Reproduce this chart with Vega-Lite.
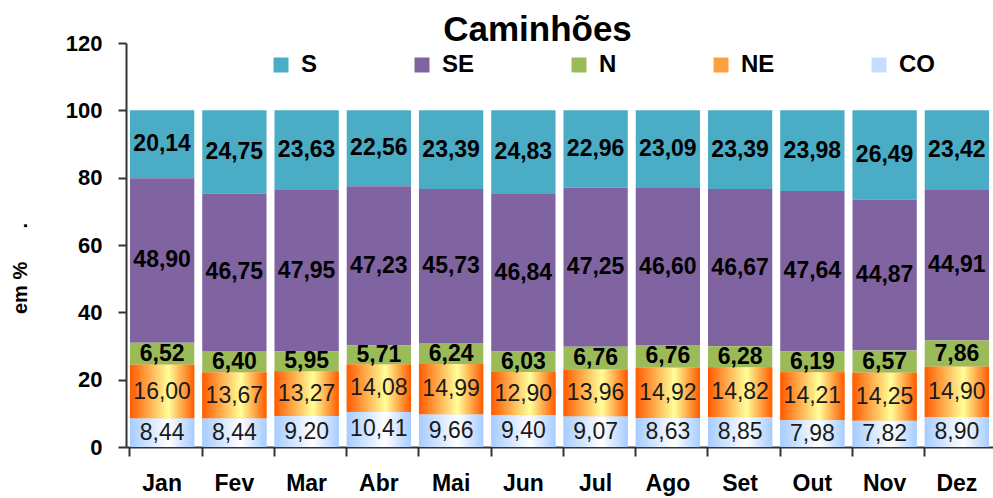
{
  "$schema": "https://vega.github.io/schema/vega-lite/v6.json",
  "width": 867,
  "height": 404,
  "autosize": {"type": "none"},
  "padding": {"left": 126, "top": 43, "right": 0, "bottom": 51},
  "background": "white",
  "title": {"text": "Caminhões", "fontSize": 35, "fontWeight": "bold", "font": "Liberation Sans", "color": "#000000", "anchor": "middle", "frame": "group", "dx": -22, "dy": 48, "baseline": "alphabetic", "offset": 4},
  "config": {
    "view": {"stroke": null},
    "locale": {"number": {"decimal": ",", "thousands": ".", "grouping": [3], "currency": ["R$", ""]}},
    "font": "Liberation Sans"
  },
  "data": {"values": [
    {"mes": "Jan", "regiao": "S", "valor": 20.14}, {"mes": "Jan", "regiao": "SE", "valor": 48.90}, {"mes": "Jan", "regiao": "N", "valor": 6.52}, {"mes": "Jan", "regiao": "NE", "valor": 16.00}, {"mes": "Jan", "regiao": "CO", "valor": 8.44},
    {"mes": "Fev", "regiao": "S", "valor": 24.75}, {"mes": "Fev", "regiao": "SE", "valor": 46.75}, {"mes": "Fev", "regiao": "N", "valor": 6.40}, {"mes": "Fev", "regiao": "NE", "valor": 13.67}, {"mes": "Fev", "regiao": "CO", "valor": 8.44},
    {"mes": "Mar", "regiao": "S", "valor": 23.63}, {"mes": "Mar", "regiao": "SE", "valor": 47.95}, {"mes": "Mar", "regiao": "N", "valor": 5.95}, {"mes": "Mar", "regiao": "NE", "valor": 13.27}, {"mes": "Mar", "regiao": "CO", "valor": 9.20},
    {"mes": "Abr", "regiao": "S", "valor": 22.56}, {"mes": "Abr", "regiao": "SE", "valor": 47.23}, {"mes": "Abr", "regiao": "N", "valor": 5.71}, {"mes": "Abr", "regiao": "NE", "valor": 14.08}, {"mes": "Abr", "regiao": "CO", "valor": 10.41},
    {"mes": "Mai", "regiao": "S", "valor": 23.39}, {"mes": "Mai", "regiao": "SE", "valor": 45.73}, {"mes": "Mai", "regiao": "N", "valor": 6.24}, {"mes": "Mai", "regiao": "NE", "valor": 14.99}, {"mes": "Mai", "regiao": "CO", "valor": 9.66},
    {"mes": "Jun", "regiao": "S", "valor": 24.83}, {"mes": "Jun", "regiao": "SE", "valor": 46.84}, {"mes": "Jun", "regiao": "N", "valor": 6.03}, {"mes": "Jun", "regiao": "NE", "valor": 12.90}, {"mes": "Jun", "regiao": "CO", "valor": 9.40},
    {"mes": "Jul", "regiao": "S", "valor": 22.96}, {"mes": "Jul", "regiao": "SE", "valor": 47.25}, {"mes": "Jul", "regiao": "N", "valor": 6.76}, {"mes": "Jul", "regiao": "NE", "valor": 13.96}, {"mes": "Jul", "regiao": "CO", "valor": 9.07},
    {"mes": "Ago", "regiao": "S", "valor": 23.09}, {"mes": "Ago", "regiao": "SE", "valor": 46.60}, {"mes": "Ago", "regiao": "N", "valor": 6.76}, {"mes": "Ago", "regiao": "NE", "valor": 14.92}, {"mes": "Ago", "regiao": "CO", "valor": 8.63},
    {"mes": "Set", "regiao": "S", "valor": 23.39}, {"mes": "Set", "regiao": "SE", "valor": 46.67}, {"mes": "Set", "regiao": "N", "valor": 6.28}, {"mes": "Set", "regiao": "NE", "valor": 14.82}, {"mes": "Set", "regiao": "CO", "valor": 8.85},
    {"mes": "Out", "regiao": "S", "valor": 23.98}, {"mes": "Out", "regiao": "SE", "valor": 47.64}, {"mes": "Out", "regiao": "N", "valor": 6.19}, {"mes": "Out", "regiao": "NE", "valor": 14.21}, {"mes": "Out", "regiao": "CO", "valor": 7.98},
    {"mes": "Nov", "regiao": "S", "valor": 26.49}, {"mes": "Nov", "regiao": "SE", "valor": 44.87}, {"mes": "Nov", "regiao": "N", "valor": 6.57}, {"mes": "Nov", "regiao": "NE", "valor": 14.25}, {"mes": "Nov", "regiao": "CO", "valor": 7.82},
    {"mes": "Dez", "regiao": "S", "valor": 23.42}, {"mes": "Dez", "regiao": "SE", "valor": 44.91}, {"mes": "Dez", "regiao": "N", "valor": 7.86}, {"mes": "Dez", "regiao": "NE", "valor": 14.90}, {"mes": "Dez", "regiao": "CO", "valor": 8.90}
  ]},
  "transform": [
    {"calculate": "indexof(['CO','NE','N','SE','S'], datum.regiao)", "as": "ord"},
    {"stack": "valor", "groupby": ["mes"], "sort": [{"field": "ord", "order": "ascending"}], "as": ["y0", "y1"]},
    {"calculate": "(datum.y0 + datum.y1) / 2", "as": "ymid"}
  ],
  "encoding": {
    "x": {
      "field": "mes", "type": "nominal",
      "sort": ["Jan", "Fev", "Mar", "Abr", "Mai", "Jun", "Jul", "Ago", "Set", "Out", "Nov", "Dez"],
      "scale": {"paddingInner": 0.11, "paddingOuter": 0.055},
      "axis": {"title": null, "labelAngle": 0, "labelFontSize": 23, "labelFontWeight": "bold", "labelColor": "#000000", "labelPadding": 16, "tickSize": 9, "tickColor": "#333333", "tickWidth": 2, "domainColor": "#333333", "domainWidth": 2, "bandPosition": 0, "grid": false}
    }
  },
  "layer": [
    {
      "mark": {"type": "bar"},
      "encoding": {
        "y": {"field": "y0", "type": "quantitative", "scale": {"domain": [0, 120], "nice": false},
          "axis": {"title": "em %\u00a0\u00a0\u00a0\u00a0\u00a0\u00a0.", "titleFontSize": 20, "titleFontWeight": "bold", "titleColor": "#000000", "titleAngle": 270, "titleX": -106, "titleY": 225, "titleAlign": "center", "titleBaseline": "middle",
            "values": [0, 20, 40, 60, 80, 100, 120], "labelFontSize": 22, "labelFontWeight": "bold", "labelColor": "#000000", "labelPadding": 16, "tickSize": 8, "tickColor": "#333333", "tickWidth": 2, "domainColor": "#333333", "domainWidth": 2, "grid": false}},
        "y2": {"field": "y1"},
        "color": {
          "field": "regiao", "type": "nominal",
          "scale": {"domain": ["S", "SE", "N", "NE", "CO"], "range": ["#4BACC6", "#8064A2", "#9BBB59", "#FFA040", "#C4DEFF"]},
          "legend": {"title": null, "orient": "none", "direction": "horizontal", "legendX": 143, "legendY": 10, "columns": 5, "columnPadding": 92, "symbolType": "square", "symbolSize": 225, "symbolStrokeWidth": 0, "labelFontSize": 24, "labelFontWeight": "bold", "labelColor": "#000000", "labelOffset": 8}
        }
      }
    },
    {
      "transform": [{"filter": "datum.regiao == 'NE'"}],
      "mark": {"type": "bar", "color": {"gradient": "linear", "x1": 0, "y1": 0, "x2": 1, "y2": 0, "stops": [{"offset": 0, "color": "#FF5A00"}, {"offset": 0.6, "color": "#FFFF99"}, {"offset": 1, "color": "#FF5A00"}]}},
      "encoding": {"y": {"field": "y0", "type": "quantitative"}, "y2": {"field": "y1"}}
    },
    {
      "transform": [{"filter": "datum.regiao == 'CO'"}],
      "mark": {"type": "bar", "color": {"gradient": "linear", "x1": 0, "y1": 0, "x2": 1, "y2": 0, "stops": [{"offset": 0, "color": "#A6CCFF"}, {"offset": 0.6, "color": "#FFFFFF"}, {"offset": 1, "color": "#A6CCFF"}]}},
      "encoding": {"y": {"field": "y0", "type": "quantitative"}, "y2": {"field": "y1"}}
    },
    {
      "transform": [{"filter": "datum.regiao == 'S' || datum.regiao == 'SE' || datum.regiao == 'N'"}],
      "mark": {"type": "text", "fontSize": 23, "fontWeight": "bold", "color": "#000000", "baseline": "middle", "align": "center"},
      "encoding": {"y": {"field": "ymid", "type": "quantitative"}, "text": {"field": "valor", "type": "quantitative", "format": ".2f"}}
    },
    {
      "transform": [{"filter": "datum.regiao == 'NE' || datum.regiao == 'CO'"}],
      "mark": {"type": "text", "fontSize": 23, "fontWeight": "normal", "color": "#1a1a1a", "baseline": "middle", "align": "center"},
      "encoding": {"y": {"field": "ymid", "type": "quantitative"}, "text": {"field": "valor", "type": "quantitative", "format": ".2f"}}
    }
  ]
}
